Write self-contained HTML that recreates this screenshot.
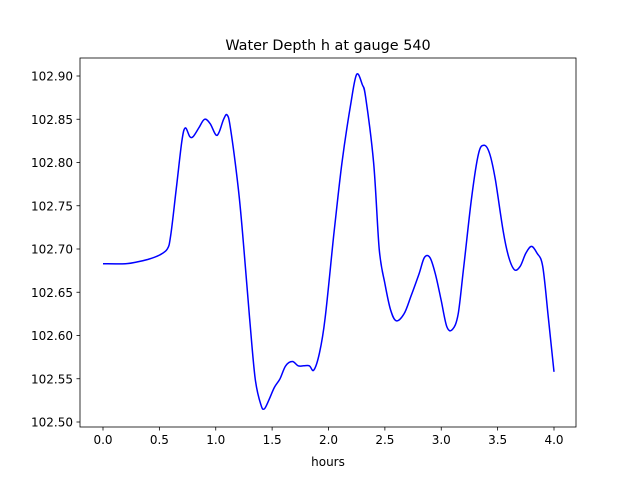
<!DOCTYPE html>
<html><head><meta charset="utf-8"><style>
body{margin:0;background:#fff;}
svg{display:block;font-family:"DejaVu Sans","Liberation Sans",sans-serif;}
</style></head><body>
<svg id="chart" width="640" height="480" viewBox="0 0 640 480">
<rect width="640" height="480" fill="#fff"/>
<text x="328" y="50" text-anchor="middle" font-size="14.4">Water Depth h at gauge 540</text>
<g id="axes"></g>
<text x="328" y="466" text-anchor="middle" font-size="12">hours</text>
</svg>
<script>
const hours=[0,0.2,0.3,0.4,0.5,0.57,0.6,0.65,0.7,0.73,0.77,0.8,0.85,0.9,0.95,1.0,1.03,1.07,1.1,1.13,1.2,1.25,1.3,1.35,1.4,1.43,1.47,1.52,1.57,1.62,1.68,1.73,1.78,1.83,1.87,1.92,1.97,2.05,2.12,2.2,2.25,2.3,2.33,2.4,2.45,2.5,2.55,2.6,2.67,2.73,2.8,2.85,2.9,2.95,3.0,3.05,3.1,3.15,3.2,3.27,3.33,3.38,3.43,3.48,3.55,3.6,3.65,3.7,3.75,3.8,3.85,3.9,3.95,4.0];
const depth=[102.683,102.683,102.685,102.688,102.693,102.70,102.715,102.77,102.825,102.84,102.83,102.83,102.84,102.85,102.845,102.832,102.835,102.85,102.855,102.84,102.77,102.70,102.62,102.55,102.52,102.515,102.525,102.54,102.55,102.565,102.57,102.565,102.565,102.565,102.56,102.58,102.62,102.72,102.80,102.87,102.902,102.89,102.875,102.80,102.70,102.66,102.63,102.617,102.625,102.645,102.67,102.69,102.69,102.67,102.64,102.61,102.607,102.625,102.68,102.76,102.81,102.82,102.81,102.78,102.72,102.69,102.676,102.68,102.695,102.703,102.695,102.68,102.62,102.558];
const xTicks=[0,0.5,1,1.5,2,2.5,3,3.5,4];
const yTicks=[102.50,102.55,102.60,102.65,102.70,102.75,102.80,102.85,102.90];
const NS="http://www.w3.org/2000/svg";
const L=80,R=576,T=58,B=427;
const X=v=>103+(v-0)*(554-103)/4;
const Y=v=>422-(v-102.5)*(422-76)/0.4;
const g=document.getElementById('axes');
function mk(t,a){const e=document.createElementNS(NS,t);for(const k in a)e.setAttribute(k,a[k]);g.appendChild(e);return e;}
const P=hours.map((h,i)=>[X(h),Y(depth[i])]);
let d='M'+P[0][0].toFixed(1)+','+P[0][1].toFixed(1);
for(let i=0;i<P.length-1;i++){
 const p0=P[Math.max(0,i-1)],p1=P[i],p2=P[i+1],p3=P[Math.min(P.length-1,i+2)];
 const c1=[p1[0]+(p2[0]-p0[0])/6,p1[1]+(p2[1]-p0[1])/6];
 const c2=[p2[0]-(p3[0]-p1[0])/6,p2[1]-(p3[1]-p1[1])/6];
 d+=' C'+c1.map(v=>v.toFixed(1)).join(',')+' '+c2.map(v=>v.toFixed(1)).join(',')+' '+p2.map(v=>v.toFixed(1)).join(',');
}
const line=mk('path',{d:d,fill:'none',stroke:'#0000ff','stroke-width':1.5,'stroke-linejoin':'round'});


const frame=mk('rect',{x:L,y:T,width:R-L,height:B-T,fill:'none',stroke:'#000','stroke-width':0.8});


xTicks.forEach(v=>{const x=X(v);
 mk('line',{x1:x,x2:x,y1:B,y2:B+3.5,stroke:'#000','stroke-width':0.8});
 const t=mk('text',{x:x,y:B+17,'text-anchor':'middle','font-size':12});t.textContent=v.toFixed(1);
 
 });
yTicks.forEach(v=>{const y=Y(v);
 mk('line',{x1:L-3.5,x2:L,y1:y,y2:y,stroke:'#000','stroke-width':0.8});
 const t=mk('text',{x:L-7,y:y+4.5,'text-anchor':'end','font-size':12});t.textContent=v.toFixed(2);
 
 });
</script>
</body></html>
